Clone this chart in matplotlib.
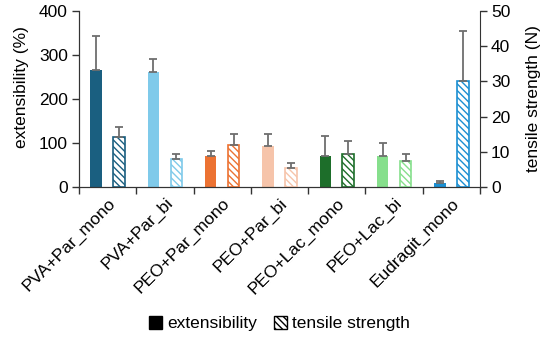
import numpy as np
import matplotlib.pyplot as plt
from matplotlib.patches import Patch

plt.rcParams['font.family'] = ['Liberation Sans', 'DejaVu Sans']

# ── data ────────────────────────────────────────────────────────────────────
categories = ['PVA+Par_mono', 'PVA+Par_bi', 'PEO+Par_mono', 'PEO+Par_bi',
              'PEO+Lac_mono', 'PEO+Lac_bi', 'Eudragit_mono']
extensibility     = [265, 261, 70, 93, 71, 71, 8]      # %
extensibility_err = [78, 31, 11, 27, 46, 28, 5]
tensile           = [14.2, 8.0, 11.8, 5.5, 9.5, 7.5, 30.0]   # N
tensile_err       = [2.9, 1.3, 3.2, 1.3, 3.5, 1.8, 14.3]
colors = ['#1a5f80', '#7fcaea', '#ec7232', '#f6c4aa',
          '#1d6e2a', '#86df8c', '#1b8fd2']

x = np.arange(len(categories))
w = 0.2
hatch = '\\\\\\\\\\'
err_kw = dict(ecolor='#6e6e6e', elinewidth=1.3, capsize=3, capthick=1.3)

fig = plt.figure(figsize=(5.5, 3.39), dpi=100)
ax1 = fig.add_axes([0.1436, 0.4484, 0.8727 - 0.1436, 0.9676 - 0.4484])
ax2 = ax1.twinx()

ax1.bar(x - w, extensibility, w, color=colors,
        yerr=[np.zeros(len(x)), extensibility_err], error_kw=err_kw, zorder=2)
ax2.bar(x + w, tensile, w, facecolor='white', edgecolor=colors, linewidth=1.2,
        hatch=hatch, yerr=[np.zeros(len(x)), tensile_err], error_kw=err_kw,
        zorder=2)

ax1.set_xlim(-0.5, len(x) - 0.5)
ax1.set_ylim(0, 400)
ax2.set_ylim(0, 50)
ax1.set_yticks([0, 100, 200, 300, 400])
ax2.set_yticks([0, 10, 20, 30, 40, 50])

# ticks at category boundaries, labels at centres
ax1.set_xticks(np.arange(len(x) + 1) - 0.5)
ax1.set_xticklabels([])
ax1.set_xticks(x, minor=True)
ax1.set_xticklabels(categories, minor=True, rotation=45, ha='right',
                    rotation_mode='anchor', fontsize=12.5)
ax1.tick_params(axis='x', which='minor', length=0, pad=6)
ax1.tick_params(axis='x', which='major', length=5, width=1, color='#333333')

for ax in (ax1, ax2):
    ax.tick_params(axis='y', labelsize=12.5, length=5, width=1,
                   color='#333333', pad=3)
    ax.spines['top'].set_visible(False)
    for s in ax.spines.values():
        s.set_color('#333333')
ax1.spines['right'].set_visible(False)

ax1.set_ylabel('extensibility (%)', fontsize=12.5)
ax2.set_ylabel('tensile strength (N)', fontsize=12.5)
ax1.yaxis.set_label_coords(-0.125, 0.57)
ax2.yaxis.set_label_coords(1.115, 0.5)

handles = [Patch(facecolor='black', edgecolor='black'),
           Patch(facecolor='white', edgecolor='black', hatch=hatch)]
fig.legend(handles, ['extensibility', 'tensile strength'],
           loc='center', bbox_to_anchor=(0.508, 0.045), ncol=2, frameon=False,
           fontsize=12.5, handlelength=0.75, handleheight=0.75,
           handletextpad=0.3, columnspacing=1.0)

fig.savefig('out.png', dpi=100)
